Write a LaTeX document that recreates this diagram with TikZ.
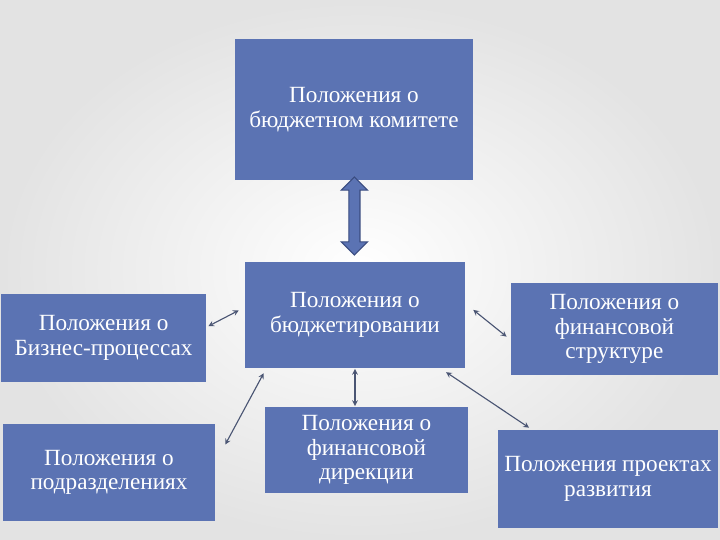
\documentclass[tikz,border=0pt]{standalone}
\usepackage{fontspec}
\setmainfont{Liberation Serif}
\usepackage{tikz}
\usetikzlibrary{shapes.arrows}

\definecolor{boxblue}{HTML}{5B73B3}
\definecolor{linkgray}{HTML}{4A5573}
\definecolor{edgeblue}{HTML}{3A4C80}

\tikzset{
  box/.style = {fill=boxblue, text=white, align=center, inner sep=0pt, font=\fontsize{16.5}{17.5}\selectfont},
  link/.style = {<->, line width=0.8pt, linkgray, >=stealth}
}

\begin{document}
\begin{tikzpicture}
\shade [inner color=white, outer color=gray!22] (0,0) rectangle (18,-13.5);
\useasboundingbox (0,0) rectangle (18,-13.5);

\node [box, minimum width=5.95cm, minimum height=3.53cm] (committee) at (8.85,-2.74) {Положения о\\бюджетном комитете};
\node [box, minimum width=5.5cm, minimum height=2.65cm] (budget) at (8.875,-7.875) {Положения о\\бюджетировании};
\node [box, minimum width=5.125cm, minimum height=2.2cm] (business) at (2.59,-8.45) {Положения о\\Бизнес-процессах};
\node [box, minimum width=5.3cm, minimum height=2.43cm] (units) at (2.725,-11.81) {Положения о\\подразделениях};
\node [box, minimum width=5.075cm, minimum height=2.15cm] (direction) at (9.16,-11.25) {Положения о\\финансовой\\дирекции};
\node [box, minimum width=5.175cm, minimum height=2.3cm] (structure) at (15.36,-8.225) {Положения о\\финансовой\\структуре};
\node [box, minimum width=5.5cm, minimum height=2.45cm] (projects) at (15.2,-11.975) {Положения проектах\\развития};

\node [double arrow, rotate=90, fill=boxblue, draw=edgeblue, thick, minimum height=1.95cm, inner sep=0.125cm, double arrow head extend=0.19cm] (bigarrow) at (8.86,-5.4) {};

\draw [link, shorten <=1.6pt, shorten >=4.8pt] (business.6) -- (budget.176);
\draw [link, shorten <=15pt, shorten >=4pt] (units.5) -- (budget.211);
\draw [link, shorten <=7.3pt, shorten >=3.7pt] (budget.6.5) -- (structure.186);
\draw [link, shorten <=5pt, shorten >=2.6pt] (budget.328) -- (projects.147);
\draw [link, shorten <=0.5pt, shorten >=0.5pt] (budget.south) -- (budget.south |- direction.north);
\end{tikzpicture}
\end{document}
